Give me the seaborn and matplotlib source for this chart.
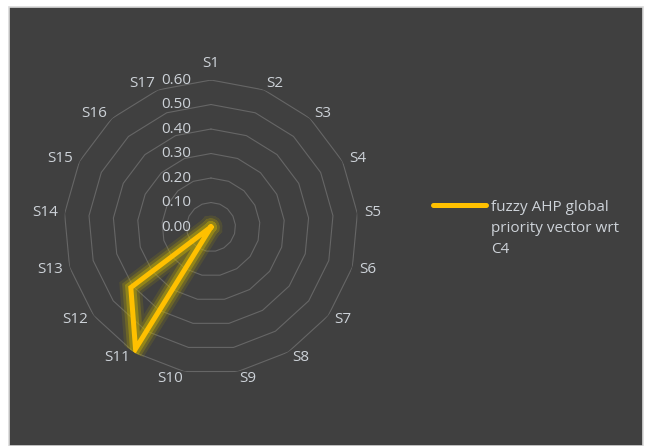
import numpy as np
import pandas as pd
import matplotlib
matplotlib.use("Agg")
import matplotlib.pyplot as plt
import matplotlib.patheffects as pe
from matplotlib.patches import Rectangle
import seaborn as sns

# data
categories = ["S%d" % i for i in range(1, 18)]
values = [0.001, 0.001, 0.001, 0.001, 0.001, 0.001, 0.001, 0.001, 0.001, 0.001,
          0.585, 0.41, 0.001, 0.001, 0.001, 0.001, 0.001]
r_ticks = [0.0, 0.1, 0.2, 0.3, 0.4, 0.5, 0.6]
r_labels = ["0.00", "0.10", "0.20", "0.30", "0.40", "0.50", "0.60"]
series_name = "fuzzy AHP global\npriority vector wrt\nC4"

sns.set_theme(style="dark")
plt.rcParams["font.family"] = ["Open Sans", "DejaVu Sans"]

bg = "#404040"
txt = "#cdd2d8"
grid = "#666666"
yellow = "#FFC000"
fs = 11

n = len(categories)
angles = np.arange(n) * 2 * np.pi / n
df = pd.DataFrame({"angle": np.append(angles, angles[0]),
                   "value": values + values[:1]})

fig = plt.figure(figsize=(6.45, 4.46), dpi=100, facecolor="white")
fig.patches.append(Rectangle((8.5 / 645, 0), 634 / 645, 439.5 / 446,
                             transform=fig.transFigure, facecolor=bg,
                             edgecolor="#d9d9d9", linewidth=1.2, zorder=-5))

ax = fig.add_axes([0.0992, 0.1614, 0.4558, 0.6592], projection="polar")
ax.set_facecolor("none")
ax.set_theta_zero_location("N")
ax.set_theta_direction(-1)
ax.set_ylim(0, 0.6)
ax.grid(False)
ax.spines["polar"].set_visible(False)

# polygon gridlines
ring = np.append(angles, angles[0])
for r in r_ticks[1:]:
    ax.plot(ring, [r] * len(ring), color=grid, linewidth=0.8, zorder=1)

ax.set_yticks([])
for r, lab in zip(r_ticks, r_labels):
    ax.annotate(lab, xy=(0, r), xytext=(-20, 0), textcoords="offset pixels",
                ha="right", va="center", color=txt, fontsize=fs)

# category labels: anchored a few px outside each outer vertex,
# left/right aligned depending on the side (like Excel)
ax.set_xticks([])
for a, cat in zip(angles, categories):
    s, c = np.sin(a), np.cos(a)
    if abs(s) < 1e-6:
        ha, va, off = "center", "bottom", (0, 9)
    else:
        ha = "left" if s > 0 else "right"
        va, off = "center", (7 * s, 7 * c)
    ax.annotate(cat, xy=(a, 0.6), xytext=off, textcoords="offset pixels",
                ha=ha, va=va, color=txt, fontsize=fs)

sns.lineplot(data=df, x="angle", y="value", ax=ax, sort=False,
             estimator=None, color=yellow, linewidth=3.6,
             label=series_name, legend=False)
l = ax.lines[-1]
l.set_solid_joinstyle("miter")
l.set_path_effects([
    pe.Stroke(linewidth=16, foreground="#b0a000", alpha=0.15),
    pe.Stroke(linewidth=12, foreground="#c0aa00", alpha=0.25),
    pe.Stroke(linewidth=8, foreground="#d0b800", alpha=0.4),
    pe.Normal(),
])
ax.set_xlabel("")
ax.set_ylabel("")

leg = fig.legend(handles=[l], labels=[series_name], loc="upper left",
                 bbox_to_anchor=(433 / 645, 1 - 200 / 446), frameon=False,
                 fontsize=fs, labelcolor=txt, handlelength=3.5,
                 handletextpad=0.3, borderpad=0, borderaxespad=0)
for h in leg.legend_handles:
    h.set_path_effects([])
for t in leg.get_texts():
    t.set_linespacing(1.55)
# put the line next to the first line of the label, as in the reference
for col in leg._legend_handle_box.get_children():
    for row in col.get_children():
        row.align = "top"

fig.savefig("out.png", dpi=100, facecolor="white")
